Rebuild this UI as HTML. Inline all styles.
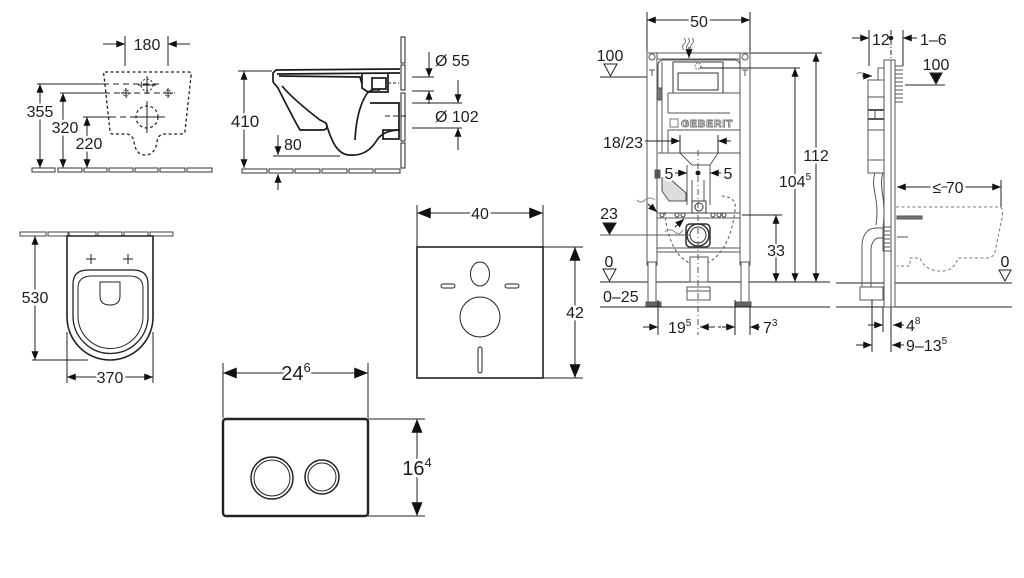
<!DOCTYPE html>
<html><head><meta charset="utf-8"><style>
html,body{margin:0;padding:0;background:#fff;width:1024px;height:578px;overflow:hidden}
svg{display:block}
text{font-family:"Liberation Sans",Arial,sans-serif;fill:#1e1e1e;stroke:none}
.h{stroke:#fff;stroke-width:5px;paint-order:stroke;stroke-linejoin:round}
</style></head><body>
<svg width="1024" height="578" viewBox="0 0 1024 578" xmlns="http://www.w3.org/2000/svg">
<defs>
<marker id="a" viewBox="0 0 10 8" refX="10" refY="4" markerWidth="9" markerHeight="7" markerUnits="userSpaceOnUse" orient="auto-start-reverse"><path d="M0,0L10,4L0,8z" fill="#111"/></marker>
<marker id="b" viewBox="0 0 10 8" refX="10" refY="4" markerWidth="15" markerHeight="11" markerUnits="userSpaceOnUse" orient="auto-start-reverse"><path d="M0,0L10,4L0,8z" fill="#111"/></marker>
</defs>

<!-- ============ TOP LEFT: wall mounting plan ============ -->
<g stroke="#222" stroke-width="1" fill="none">
  <line x1="125" y1="36" x2="125" y2="66"/>
  <line x1="168" y1="36" x2="168" y2="66"/>
  <line x1="103" y1="44" x2="125" y2="44" marker-end="url(#a)"/>
  <line x1="190" y1="44" x2="168" y2="44" marker-end="url(#a)"/>
  <path d="M105,72 L189,72 Q192,72 191,76 L185,131 Q185,134 181,134 L163,134 Q158,135 157,142 Q155,155 145,155 Q136,155 134,142 Q133,135 127,134 L113,134 Q110,134 110,131 L104,76 Q103,72 105,72 Z" stroke-dasharray="3 2.5" stroke-width="1.3"/>
  <line x1="37" y1="84" x2="103" y2="84"/>
  <line x1="103" y1="84" x2="162" y2="84" stroke-dasharray="6 4"/>
  <line x1="60" y1="93" x2="104" y2="93"/>
  <line x1="104" y1="93" x2="175" y2="93" stroke-dasharray="6 4"/>
  <line x1="83" y1="117" x2="110" y2="117"/>
  <line x1="110" y1="117" x2="165" y2="117" stroke-dasharray="6 4"/>
  <circle cx="147" cy="117" r="11" stroke-dasharray="3 2.5" stroke-width="1.2"/>
  <line x1="147" y1="101" x2="147" y2="133"/>
  <line x1="131" y1="117" x2="163" y2="117"/>
  <circle cx="147" cy="85" r="6" stroke-dasharray="2 2"/>
  <line x1="147" y1="76" x2="147" y2="94"/>
  <line x1="138" y1="85" x2="156" y2="85"/>
  <circle cx="126" cy="93" r="3" stroke-dasharray="1.5 1.5"/>
  <line x1="126" y1="88" x2="126" y2="98"/><line x1="121" y1="93" x2="131" y2="93"/>
  <circle cx="168" cy="93" r="3" stroke-dasharray="1.5 1.5"/>
  <line x1="168" y1="88" x2="168" y2="98"/><line x1="163" y1="93" x2="173" y2="93"/>
  <line x1="40" y1="84" x2="40" y2="168" marker-start="url(#a)" marker-end="url(#a)"/>
  <line x1="63" y1="93" x2="63" y2="168" marker-start="url(#a)" marker-end="url(#a)"/>
  <line x1="87" y1="117" x2="87" y2="168" marker-start="url(#a)" marker-end="url(#a)"/>
  <g stroke="#333">
   <rect x="32" y="168" width="23" height="4"/><rect x="58" y="168" width="24" height="4"/><rect x="84" y="168" width="23" height="4"/><rect x="109" y="168" width="24" height="4"/><rect x="135" y="168" width="23" height="4"/><rect x="160" y="168" width="25" height="4"/><rect x="187" y="168" width="25" height="4"/>
  </g>
</g>
<text x="147" y="50" font-size="16" text-anchor="middle">180</text>
<text x="40" y="117" font-size="16" text-anchor="middle" class="h">355</text>
<text x="65" y="133" font-size="16" text-anchor="middle" class="h">320</text>
<text x="89" y="149" font-size="16" text-anchor="middle" class="h">220</text>

<!-- ============ TOP MIDDLE: side view toilet ============ -->
<g stroke="#222" stroke-width="1" fill="none">
  <rect x="401" y="37" width="4" height="26"/>
  <rect x="401" y="65" width="4" height="25"/>
  <rect x="401" y="93" width="4" height="48"/>
  <rect x="401" y="143" width="4" height="25"/>
  <g stroke="#333">
   <rect x="242" y="169" width="25" height="4"/><rect x="269" y="169" width="24" height="4"/><rect x="295" y="169" width="25" height="4"/><rect x="322" y="169" width="25" height="4"/><rect x="349" y="169" width="24" height="4"/><rect x="375" y="169" width="25" height="4"/>
  </g>
  <line x1="238" y1="71" x2="272" y2="71"/>
  <line x1="244" y1="71" x2="244" y2="168" marker-start="url(#a)" marker-end="url(#a)"/>
  <line x1="278" y1="135" x2="278" y2="155" marker-end="url(#a)"/>
  <line x1="273" y1="156" x2="340" y2="156"/>
  <line x1="278" y1="190" x2="278" y2="174" marker-end="url(#a)"/>
  <!-- bowl -->
  <g stroke-width="1.7" stroke="#1a1a1a">
   <path d="M273,82 L273,73 L276,70 L400,69"/>
   <path d="M277,74 L400,73"/>
   <path d="M279,76 L360,77 L362,84"/>
   <path d="M273,82 L278,88 C285,102 293,118 300,130 L322,130 C327,130 328,127 326,123"/>
   <path d="M282,86 C292,98 307,110 320,120 L326,123"/>
   <path d="M326,123 C331,140 337,155 350,155 C362,156 371,150 377,140 C381,134 388,130 400,130"/>
   <path d="M355,140 C356,120 360,105 366,95 C369,90 373,89 380,90"/>
   <path d="M362,73 L362,88 L368,92 L388,92 L388,73"/>
   <rect x="372" y="78" width="14" height="11"/>
   <path d="M370,103 L399,103 L399,130"/>
   <rect x="383" y="130" width="16" height="9"/>
  </g>
  <line x1="388" y1="83" x2="399" y2="83" stroke-dasharray="3 2"/>
  <line x1="385" y1="116" x2="408" y2="116" stroke-dasharray="5 3"/>
  <!-- Ø dims -->
  <line x1="412" y1="77" x2="434" y2="77"/>
  <line x1="412" y1="91" x2="434" y2="91"/>
  <line x1="429" y1="52" x2="429" y2="77" marker-end="url(#a)"/>
  <line x1="429" y1="104" x2="429" y2="91" marker-end="url(#a)"/>
  <line x1="412" y1="103" x2="462" y2="103"/>
  <line x1="412" y1="128" x2="462" y2="128"/>
  <line x1="458" y1="80" x2="458" y2="103" marker-end="url(#a)"/>
  <line x1="458" y1="150" x2="458" y2="128" marker-end="url(#a)"/>
</g>
<text x="245" y="127" font-size="17" text-anchor="middle" class="h">410</text>
<text x="284" y="150" font-size="16">80</text>
<text x="435" y="66" font-size="16">Ø 55</text>
<text x="435" y="122" font-size="16">Ø 102</text>

<!-- ============ BOTTOM LEFT: plan view toilet ============ -->
<g stroke="#222" stroke-width="1" fill="none">
  <g stroke="#444">
   <rect x="20" y="232" width="26" height="4"/><rect x="48" y="232" width="20" height="4"/><rect x="69" y="232" width="27" height="4"/><rect x="98" y="232" width="24" height="4"/><rect x="124" y="232" width="24" height="4"/><rect x="150" y="232" width="23" height="4"/>
  </g>
  <path d="M67,236 L153,236 L153,317 A43,43 0 0 1 67,317 Z" stroke-width="1.6"/>
  <path d="M73,284 Q73,270 88,270 L133,270 Q148,270 148,284 L148,316 A37.5,37.5 0 0 1 73,316 Z" stroke-width="1.3"/>
  <path d="M78,288 Q78,276 92,276 L129,276 Q143,276 143,288 L143,316 A32.5,32.5 0 0 1 78,316 Z" stroke-width="1"/>
  <path d="M100,282 L120,282 L120,296 Q120,305 110,305 Q100,305 100,296 Z"/>
  <path d="M91,254 L91,264 M86,259 L96,259"/>
  <path d="M128,254 L128,264 M123,259 L133,259"/>
  <line x1="35" y1="236" x2="35" y2="360" marker-start="url(#a)" marker-end="url(#a)"/>
  <line x1="32" y1="360" x2="88" y2="360"/>
  <line x1="67" y1="332" x2="67" y2="383"/>
  <line x1="153" y1="332" x2="153" y2="383"/>
  <line x1="67" y1="377" x2="153" y2="377" marker-start="url(#a)" marker-end="url(#a)"/>
</g>
<text x="35" y="303" font-size="16" text-anchor="middle" class="h">530</text>
<text x="110" y="383" font-size="16" text-anchor="middle" class="h">370</text>

<!-- ============ Sound insulation panel 40 x 42 ============ -->
<g stroke="#222" stroke-width="1" fill="none">
  <line x1="417" y1="205" x2="417" y2="247"/>
  <line x1="543" y1="205" x2="543" y2="247"/>
  <line x1="417" y1="213" x2="543" y2="213" marker-start="url(#b)" marker-end="url(#b)"/>
  <rect x="417" y="247" width="126" height="131" stroke-width="1.6"/>
  <ellipse cx="480" cy="274" rx="9.5" ry="12"/>
  <rect x="441" y="284" width="14" height="4" rx="2"/>
  <rect x="505" y="284" width="14" height="4" rx="2"/>
  <circle cx="480" cy="317" r="20"/>
  <rect x="478" y="347" width="4" height="26" rx="2"/>
  <line x1="543" y1="247" x2="583" y2="247"/>
  <line x1="543" y1="378" x2="583" y2="378"/>
  <line x1="575" y1="247" x2="575" y2="378" marker-start="url(#b)" marker-end="url(#b)"/>
</g>
<text x="480" y="219" font-size="16" text-anchor="middle" class="h">40</text>
<text x="575" y="318" font-size="16" text-anchor="middle" class="h">42</text>

<!-- ============ Flush plate ============ -->
<g stroke="#222" stroke-width="1" fill="none">
  <line x1="223" y1="363" x2="223" y2="418"/>
  <line x1="368" y1="363" x2="368" y2="418"/>
  <line x1="223" y1="373" x2="368" y2="373" marker-start="url(#b)" marker-end="url(#b)"/>
  <rect x="223" y="419" width="145" height="97" rx="3" stroke-width="2.4"/>
  <circle cx="272" cy="478" r="21" stroke-width="1.5"/>
  <circle cx="272" cy="478" r="18" stroke-width="1"/>
  <circle cx="322" cy="477" r="17" stroke-width="1.5"/>
  <circle cx="322" cy="477" r="14" stroke-width="1"/>
  <line x1="368" y1="419" x2="425" y2="419"/>
  <line x1="368" y1="516" x2="425" y2="516"/>
  <line x1="417" y1="419" x2="417" y2="516" marker-start="url(#b)" marker-end="url(#b)"/>
</g>
<text x="296" y="380" font-size="20" text-anchor="middle" class="h">24<tspan font-size="13" dy="-8">6</tspan></text>
<text x="417" y="475" font-size="20" text-anchor="middle" class="h">16<tspan font-size="13" dy="-8">4</tspan></text>

<!-- ============ Geberit frame front view ============ -->
<g stroke="#555" stroke-width="1" fill="none">
  <line x1="600" y1="282" x2="830" y2="282" stroke="#222"/>
  <line x1="600" y1="307" x2="830" y2="307" stroke="#222"/>
  <rect x="647" y="53" width="103" height="6" fill="#fff"/>
  <rect x="647" y="53" width="10" height="212" fill="#fff"/>
  <rect x="740" y="53" width="10" height="212" fill="#fff"/>
  <rect x="648" y="262" width="8" height="41" fill="#fff"/>
  <rect x="741" y="262" width="8" height="41" fill="#fff"/>
  <rect x="646" y="302" width="15" height="4" fill="#666"/>
  <rect x="736" y="302" width="15" height="4" fill="#666"/>
  <circle cx="652" cy="57" r="3"/><circle cx="745" cy="57" r="3"/>
  <path d="M658,93 L658,66 Q658,60 664,60 L734,60 Q740,60 740,66 L740,93"/>
  <line x1="662" y1="62" x2="662" y2="153"/>
  <rect x="673" y="62" width="50" height="31" stroke="#333" fill="#fff"/>
  <rect x="678" y="73" width="40" height="17" stroke="#333"/>
  <circle cx="698" cy="66" r="3" stroke-dasharray="1.5 1.5"/>
  <path d="M652,70 l0,6 M649,70 h6 M745,70 l0,6 M742,70 h6"/>
  <rect x="657" y="88" width="5" height="12" fill="#777"/>
  <line x1="668" y1="93" x2="740" y2="93"/>
  <line x1="668" y1="113" x2="730" y2="113"/>
  <line x1="668" y1="93" x2="668" y2="113"/>
  <line x1="668" y1="130" x2="740" y2="130"/>
  <line x1="668" y1="130" x2="668" y2="153"/>
  <rect x="670" y="119" width="8" height="8" stroke="#777"/>
  <line x1="658" y1="153" x2="740" y2="153"/>
  <path d="M680,153 L692,165 L710,165 L718,153"/>
  <line x1="680" y1="135" x2="680" y2="153" stroke="#222"/>
  <line x1="718" y1="135" x2="718" y2="153" stroke="#222"/>
  <line x1="687" y1="165" x2="687" y2="205"/>
  <line x1="710" y1="165" x2="710" y2="205"/>
  <line x1="692" y1="180" x2="692" y2="205"/>
  <line x1="704" y1="180" x2="704" y2="205"/>
  <path d="M662,178 L669,178 L686,193 L686,201 L669,201 L662,191 Z" fill="#ddd"/>
  <rect x="655" y="170" width="5" height="8" fill="#555"/>
  <rect x="657" y="213" width="83" height="5" fill="#fff"/>
  <g stroke="#444"><circle cx="662" cy="215" r="2"/><circle cx="677" cy="215" r="2"/><circle cx="683" cy="215" r="2"/><circle cx="713" cy="215" r="2"/><circle cx="719" cy="215" r="2"/><circle cx="724" cy="215" r="2"/></g>
  <rect x="692" y="201" width="14" height="12" stroke="#333" fill="#fff"/>
  <circle cx="699" cy="207" r="4" stroke="#333"/>
  <path d="M665,212 C667,248 684,265 698,265 C713,265 731,248 735,210 C737,200 730,196 720,196" stroke-dasharray="3 2.5"/>
  <rect x="686" y="224" width="24" height="23" rx="4" stroke="#333" stroke-width="1.5" fill="#fff"/>
  <circle cx="698" cy="235" r="11" stroke="#333" stroke-width="1.5"/>
  <circle cx="698" cy="235" r="8" stroke="#333"/>
  <line x1="657" y1="248" x2="740" y2="248"/>
  <line x1="657" y1="252" x2="740" y2="252"/>
  <rect x="690" y="257" width="18" height="25" fill="#fff"/>
  <rect x="687" y="287" width="23" height="13"/>
  <line x1="687" y1="291" x2="710" y2="291"/>
  <line x1="698" y1="150" x2="698" y2="335" stroke-dasharray="6 3 1 3"/>
  <path d="M684,38 q3,3 0,6 q-3,3 0,6 M688,38 q3,3 0,6 q-3,3 0,6 M692,38 q3,3 0,6 q-3,3 0,6" stroke="#777"/>
  <line x1="689" y1="47" x2="689" y2="58" stroke="#111" marker-end="url(#a)"/>
  <path d="M655,200 q-5,-4 -10,0 q-4,4 -8,0" stroke="#888"/>
  <line x1="648" y1="204" x2="657" y2="212" stroke="#111" marker-end="url(#a)"/>
  <path d="M665,232 q5,-4 10,0 q4,4 8,-2" stroke="#888"/>
  <line x1="675" y1="227" x2="684" y2="219" stroke="#111" marker-end="url(#a)"/>
</g>
<text x="681" y="127" font-size="10.5" font-weight="bold" letter-spacing="0.8" style="fill:#fff;stroke:#777;stroke-width:0.9px">GEBERIT</text>
<g stroke="#222" stroke-width="1" fill="none">
  <line x1="647" y1="12" x2="647" y2="52"/>
  <line x1="750" y1="12" x2="750" y2="52"/>
  <line x1="647" y1="20" x2="750" y2="20" marker-start="url(#a)" marker-end="url(#a)"/>
  <line x1="600" y1="77" x2="647" y2="77"/>
  <path d="M604,64 L617,64 L610.5,76 Z"/>
  <line x1="750" y1="53" x2="822" y2="53"/>
  <line x1="700" y1="68" x2="800" y2="68"/>
  <line x1="816" y1="53" x2="816" y2="282" marker-start="url(#a)" marker-end="url(#a)"/>
  <line x1="795" y1="68" x2="795" y2="282" marker-start="url(#a)" marker-end="url(#a)"/>
  <line x1="742" y1="215" x2="782" y2="215"/>
  <line x1="776" y1="215" x2="776" y2="282" marker-start="url(#a)" marker-end="url(#a)"/>
  <line x1="645" y1="141" x2="680" y2="141" marker-end="url(#a)"/>
  <line x1="731" y1="141" x2="718" y2="141" marker-end="url(#a)"/>
  <line x1="675" y1="173" x2="687" y2="173" marker-end="url(#a)"/>
  <line x1="721" y1="173" x2="710" y2="173" marker-end="url(#a)"/>
  <circle cx="698" cy="173" r="2" fill="#111"/>
  <line x1="600" y1="235" x2="690" y2="235" stroke="#555"/>
  <path d="M603,223 L616,223 L609.5,234 Z" fill="#111"/>
  <path d="M603,269 L616,269 L609.5,281 Z"/>
  <line x1="658" y1="300" x2="658" y2="335"/>
  <line x1="735" y1="300" x2="735" y2="335"/>
  <line x1="750" y1="307" x2="750" y2="335"/>
  <line x1="643" y1="327" x2="658" y2="327" marker-end="url(#a)"/>
  <line x1="712" y1="327" x2="700" y2="327" marker-end="url(#a)"/>
  <line x1="712" y1="327" x2="722" y2="327" stroke-dasharray="3 3"/>
  <line x1="722" y1="327" x2="735" y2="327" marker-end="url(#a)"/>
  <line x1="760" y1="327" x2="750" y2="327" marker-end="url(#a)"/>
</g>
<text x="699" y="27" font-size="16" text-anchor="middle" class="h">50</text>
<text x="610" y="61" font-size="16" text-anchor="middle">100</text>
<text x="816" y="161" font-size="16" text-anchor="middle" class="h">112</text>
<text x="795" y="187" font-size="16" text-anchor="middle" class="h">104<tspan font-size="10" dy="-7">5</tspan></text>
<text x="776" y="256" font-size="16" text-anchor="middle" class="h">33</text>
<text x="603" y="148" font-size="16">18/23</text>
<text x="669" y="179" font-size="16" text-anchor="middle" class="h">5</text>
<text x="728" y="179" font-size="16" text-anchor="middle" class="h">5</text>
<text x="609" y="219" font-size="16" text-anchor="middle">23</text>
<text x="609" y="267" font-size="16" text-anchor="middle">0</text>
<text x="603" y="302" font-size="16">0–25</text>
<text x="668" y="333" font-size="16">19<tspan font-size="10" dy="-7">5</tspan></text>
<text x="763" y="333" font-size="16">7<tspan font-size="10" dy="-7">3</tspan></text>

<!-- ============ Right side view ============ -->
<g stroke="#555" stroke-width="1" fill="none">
  <line x1="836" y1="283" x2="1012" y2="283" stroke="#222"/>
  <line x1="836" y1="307" x2="1012" y2="307" stroke="#222"/>
  <rect x="884" y="60" width="11" height="247" fill="#fff"/>
  <line x1="891" y1="60" x2="891" y2="307"/>
  <path d="M895,66 L903,66 M895,70 h8 M895,74 h8 M895,78 h8 M895,82 h8 M895,86 h8 M895,90 h8 M895,94 h8 M895,98 h8 M895,102 h8"/>
  <path d="M878,80 L878,68 L884,68"/>
  <rect x="868" y="80" width="16" height="93" fill="#fff"/>
  <line x1="868" y1="97" x2="884" y2="97"/>
  <line x1="868" y1="110" x2="884" y2="110" stroke-width="2"/>
  <line x1="868" y1="119" x2="884" y2="119" stroke-width="2"/>
  <line x1="868" y1="130" x2="884" y2="130"/>
  <line x1="868" y1="160" x2="884" y2="160"/>
  <line x1="875" y1="119" x2="875" y2="110"/>
  <path d="M875,173 C870,188 880,198 876,225"/>
  <path d="M883,173 C878,188 887,198 883,228"/>
  <path d="M884,228 L876,228 C867,228 862,236 862,246 L862,287"/>
  <path d="M884,238 L879,238 C874,238 871,244 871,250 L871,287"/>
  <rect x="860" y="287" width="23" height="13" fill="#fff"/>
  <rect x="883" y="227" width="8" height="24"/>
  <path d="M884,231 h6 M884,235 h6 M884,239 h6 M884,243 h6 M884,247 h6"/>
  <rect x="897" y="216" width="25" height="3" fill="#777"/>
  <path d="M896,207 L999,207 C1003,207 1003,212 1002,218 L995,252 C994,256 991,258 986,258 L958,258 C955,268 948,272 938,271 C928,270 922,264 920,258 L910,258 L910,266 L897,266" stroke-dasharray="3 2.5" stroke="#777"/>
  <line x1="897" y1="237" x2="908" y2="237"/>
  <path d="M857,74 q3,-3 6,0 q3,3 6,0" stroke="#888"/>
  <line x1="862" y1="76" x2="872" y2="76" stroke="#111" marker-end="url(#a)"/>
</g>
<g stroke="#222" stroke-width="1" fill="none">
  <line x1="869" y1="30" x2="869" y2="66"/>
  <line x1="903" y1="30" x2="903" y2="66"/>
  <line x1="891" y1="30" x2="891" y2="60" stroke-dasharray="5 2 1 2"/>
  <line x1="852" y1="38" x2="869" y2="38" marker-end="url(#a)"/>
  <line x1="917" y1="38" x2="903" y2="38" marker-end="url(#a)"/>
  <circle cx="891" cy="38" r="1.8" fill="#111"/>
  <line x1="905" y1="85" x2="945" y2="85"/>
  <path d="M930,73 L942,73 L936,84 Z" fill="#111"/>
  <line x1="1001" y1="180" x2="1001" y2="207"/>
  <line x1="897" y1="187" x2="1001" y2="187" marker-start="url(#a)" marker-end="url(#a)"/>
  <path d="M999,270 L1011,270 L1005,281 Z"/>
  <line x1="872" y1="300" x2="872" y2="352"/>
  <line x1="883" y1="307" x2="883" y2="332"/>
  <line x1="891" y1="307" x2="891" y2="352"/>
  <line x1="868" y1="325" x2="883" y2="325" marker-end="url(#a)"/>
  <line x1="904" y1="325" x2="893" y2="325" marker-end="url(#a)"/>
  <line x1="856" y1="345" x2="872" y2="345" marker-end="url(#a)"/>
  <line x1="904" y1="345" x2="892" y2="345" marker-end="url(#a)"/>
</g>
<text x="872" y="45" font-size="16">12</text>
<text x="920" y="45" font-size="16">1–6</text>
<text x="936" y="70" font-size="16" text-anchor="middle">100</text>
<text x="948" y="193" font-size="16" text-anchor="middle" class="h">≤ 70</text>
<text x="1005" y="267" font-size="16" text-anchor="middle">0</text>
<text x="906" y="331" font-size="16">4<tspan font-size="10" dy="-7">8</tspan></text>
<text x="906" y="351" font-size="16">9–13<tspan font-size="10" dy="-7">5</tspan></text>
</svg>
</body></html>
